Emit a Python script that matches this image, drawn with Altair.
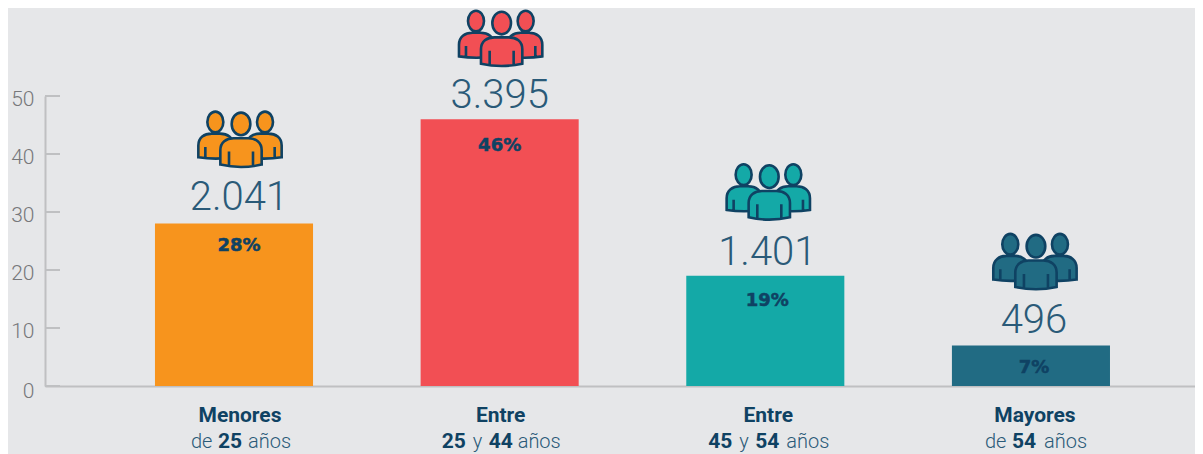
import altair as alt
import pandas as pd

# ---- data ----
groups = ["Menores de 25", "Entre 25 y 44", "Entre 45 y 54", "Mayores de 54"]
values = [28, 46, 19, 7]
people = ["2.041", "3.395", "1.401", "496"]
percents = ["28%", "46%", "19%", "7%"]
top_labels = ["Menores", "Entre", "Entre", "Mayores"]
bottom_tokens = [
    [("de", False, -43), ("25", True, -16), ("años", False, 14)],
    [("25", True, -58), ("y", False, -27), ("44", True, -11), ("años", False, 18)],
    [("45", True, -57), ("y", False, -26), ("54", True, -10), ("años", False, 21)],
    [("de", False, -46), ("54", True, -19), ("años", False, 13)],
]
y_ticks = [0, 10, 20, 30, 40, 50]

# ---- style ----
BG = "#e6e7e9"
NAVY = "#0f4263"
LIGHT_NAVY = "#2a5a78"
AXIS = "#bfc0c2"
colors = ["#f7941d", "#f24f54", "#14a9a7", "#216b83"]
text_shift = [5, 0, 2, 3]
number_dy = [-14, -11, -11, -12]
pct_dy = [27, 32, 30, 28]
icon_dy = [-83, -79.5, -82.5, -82.5]
W, H = 1150, 290


def pt(x, y):
    return f"{x / 129:.4f},{y / 129:.4f}"


def ell(cx, cy, rx, ry):
    k = 0.5523
    return (
        f"M{pt(cx - rx, cy)}"
        f"C{pt(cx - rx, cy - k * ry)} {pt(cx - k * rx, cy - ry)} {pt(cx, cy - ry)}"
        f"C{pt(cx + k * rx, cy - ry)} {pt(cx + rx, cy - k * ry)} {pt(cx + rx, cy)}"
        f"C{pt(cx + rx, cy + k * ry)} {pt(cx + k * rx, cy + ry)} {pt(cx, cy + ry)}"
        f"C{pt(cx - k * rx, cy + ry)} {pt(cx - rx, cy + k * ry)} {pt(cx - rx, cy)}Z"
    )


def body(l, r, top, bot, sag, arm):
    m = (l + r) / 2
    return (
        f"M{pt(l, bot)}L{pt(l, top + 36)}"
        f"C{pt(l, top + 12)} {pt(l + 18, top)} {pt(l + 40, top)}"
        f"L{pt(r - 40, top)}"
        f"C{pt(r - 18, top)} {pt(r, top + 12)} {pt(r, top + 36)}"
        f"L{pt(r, bot)}"
        f"Q{pt(m, bot + sag)} {pt(l, bot)}Z"
        f"M{pt(l + arm, top + 40)}L{pt(l + arm, bot + 4)}"
        f"M{pt(r - arm, top + 40)}L{pt(r - arm, bot + 4)}"
    )


back_shape = (
    ell(-74, -56, 24, 31) + ell(75, -56, 24, 31)
    + body(-125, -20, -21, 50, 8, 21)
    + body(20, 125, -21, 50, 8, 21)
)
front_shape = ell(3, -50, 28, 34) + body(-59, 65, -7, 72, 14, 26)
ICON_SIZE = 86 ** 2

df = pd.DataFrame({"group": groups, "value": values})
x_scale = alt.Scale(domain=groups, paddingInner=0.405, paddingOuter=0.367, align=0.564)
y_scale = alt.Scale(domain=[0, 50], nice=False)

x_axis = alt.Axis(title=None, labels=False, ticks=False, domainColor=AXIS,
                  domainWidth=2, grid=False)
y_axis = alt.Axis(title=None, values=y_ticks, ticks=False, grid=False,
                  domainColor=AXIS, domainWidth=2, labelColor="#77787b",
                  labelFont="Roboto", labelFontWeight=300, labelFontSize=21,
                  labelPadding=11,
                  labelOffset=alt.expr("datum.value === 0 ? 5 : 3"))
x = alt.X("group:N", scale=x_scale, sort=groups, axis=x_axis)
y = alt.Y("value:Q", scale=y_scale, axis=y_axis)

bars = alt.Chart(df).mark_bar().encode(
    x=x, y=y,
    color=alt.Color("group:N", scale=alt.Scale(domain=groups, range=colors), legend=None),
)

tick_rules = alt.Chart(pd.DataFrame({"t": y_ticks})).mark_rule(color=AXIS, strokeWidth=2).encode(
    x=alt.value(0), x2=alt.value(15), y=alt.Y("t:Q", scale=y_scale, axis=y_axis),
)

layers = [bars, tick_rules]

for i, g in enumerate(groups):
    row = pd.DataFrame({
        "group": [g], "value": [values[i]], "people": [people[i]],
        "pct": [percents[i]], "top": [top_labels[i]],
    })
    base = alt.Chart(row)
    s = text_shift[i]
    for shape in (back_shape, front_shape):
        layers.append(base.mark_point(
            shape=shape, size=ICON_SIZE, filled=True, fill=colors[i], fillOpacity=1,
            stroke=NAVY, strokeWidth=2.6, strokeOpacity=1, xOffset=s + 1, yOffset=icon_dy[i],
        ).encode(x=x, y=y))
    layers.append(base.mark_text(
        font="Roboto", fontWeight=300, fontSize=40, color=LIGHT_NAVY, dx=s,
        dy=number_dy[i], baseline="alphabetic", align="center",
    ).encode(text="people:N", x=x, y=y))
    layers.append(base.mark_text(
        font="DejaVu Sans", fontWeight="bold", fontSize=18, color=NAVY, dx=s,
        dy=pct_dy[i], baseline="alphabetic", align="center", stroke=NAVY, strokeWidth=0.5,
    ).encode(text="pct:N", x=x, y=y))
    layers.append(base.mark_text(
        font="Roboto", fontWeight="bold", fontSize=21, color=NAVY, dx=s + 1,
        baseline="alphabetic", align="center",
    ).encode(text="top:N", x=x, y=alt.value(H + 36)))
    for tok, bold, off in bottom_tokens[i]:
        tok_df = pd.DataFrame({"group": [g], "tok": [tok]})
        layers.append(alt.Chart(tok_df).mark_text(
            font="Roboto", fontWeight="bold" if bold else 300,
            fontSize=21 if bold else 20, color=NAVY if bold else LIGHT_NAVY, dx=off,
            baseline="alphabetic", align="left",
        ).encode(text="tok:N", x=x, y=alt.value(H + 62)))

chart = alt.layer(*layers).resolve_scale(color="independent").properties(
    width=W, height=H, background=BG,
    padding={"left": 37, "top": 88, "right": 0, "bottom": 68},
    autosize=alt.AutoSizeParams(type="none"),
).configure_view(stroke=None)

chart.save("out.html", embed_options={"renderer": "svg", "actions": False})
